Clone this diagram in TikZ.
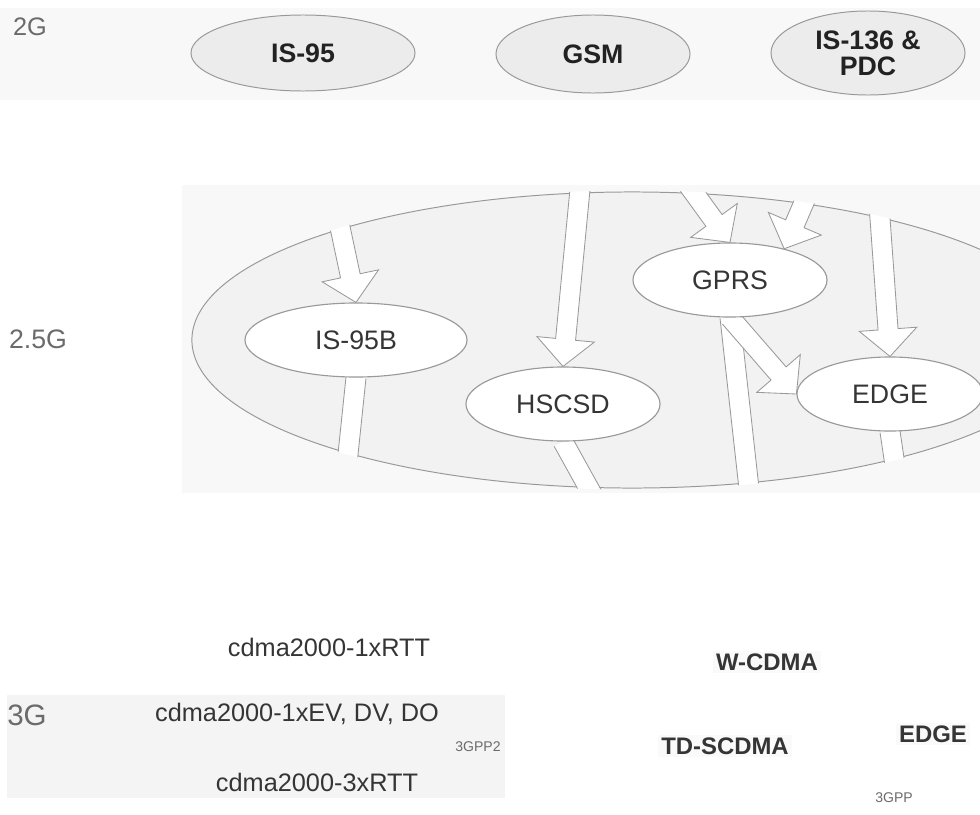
\documentclass[tikz,border=0pt]{standalone}
\usepackage{fontspec}
\setmainfont{Liberation Sans}
\usetikzlibrary{calc,shapes.geometric,backgrounds}
\definecolor{Ink}{HTML}{222222}
\definecolor{Txt}{HTML}{353535}
\definecolor{Gen}{HTML}{6B6B6B}
\definecolor{Line}{HTML}{999999}
\definecolor{Wash}{HTML}{F4F4F4}
\definecolor{Haze}{HTML}{F8F8F8}
\definecolor{Faint}{HTML}{FAFAFA}
\definecolor{Mottle}{HTML}{ECECEC}

\tikzset{
  gen/.style={font=\fontsize{18}{20}\selectfont,text=Gen},
  old/.style={ellipse,draw=Line,fill=Mottle,line width=0.7pt,inner sep=0pt,
    text=Ink,align=center,font=\fontsize{19}{18.5}\selectfont\bfseries},
  mid/.style={ellipse,draw=Line,fill=white,line width=0.8pt,inner sep=0pt,
    minimum height=1.85cm,text=Txt,font=\fontsize{19}{20}\selectfont},
  cdma/.style={text=Txt,inner sep=1pt,font=\fontsize{18}{20}\selectfont},
  gsmfam/.style={text=Txt,fill=Faint,inner sep=2pt,font=\fontsize{17}{20}\selectfont\bfseries},
  body/.style={text=Gen,inner sep=1pt,font=\fontsize{10}{12}\selectfont},
  blockarr/.style={draw=Line,fill=white,line width=0.6pt,line join=miter},
}

% block arrow from #1 to the tip #2
\newcommand\blockarrow[2]{%
  \path ($(#2)!\hdl!(#1)$) coordinate (neck);
  \filldraw[blockarr] ($(#1)!\shw!90:(#2)$) -- ($(neck)!\shw!-90:(#1)$)
    -- ($(neck)!\hdw!-90:(#1)$) -- (#2) -- ($(neck)!\hdw!90:(#1)$)
    -- ($(neck)!\shw!90:(#1)$) -- ($(#1)!\shw!-90:(#2)$);
}

\begin{document}
\begin{tikzpicture}[x=0.025cm,y=-0.025cm]
  \def\shw{0.25cm}
  \def\hdw{0.72cm}
  \def\hdl{0.68cm}
  \useasboundingbox (0,0) rectangle (980,815);

  % generations
  \node[gen] (g2) at (30,27) {2G};
  \node[gen,font=\fontsize{19}{22}\selectfont] (g25) at (38,339) {2.5G};
  \node[gen,font=\fontsize{21}{24}\selectfont] (g3) at (27,715) {3G};

  % 2G
  \node[old,minimum width=5.6cm,minimum height=1.9cm] (is95) at (303,53) {IS-95};
  \node[old,minimum width=4.85cm,minimum height=1.95cm] (gsm) at (593,54) {GSM};
  \node[old,minimum width=4.85cm,minimum height=2.1cm] (is136) at (868,53) {IS-136 \&\\PDC};

  % 2.5G
  \foreach \nm/\x/\y/\w/\lab in {is95b/356/340/5.55/IS-95B, hscsd/563/404/4.85/HSCSD,
      gprs/730/280/4.85/GPRS, edge/890/394/4.65/EDGE}
    \node[mid,minimum width=\w cm] (\nm) at (\x,\y) {\lab};

  % 3G
  \node[cdma] (rtt1) at (329,647) {cdma2000-1xRTT};
  \node[cdma] (evdo) at (297,714) {cdma2000-1xEV, DV, DO};
  \node[cdma] (rtt3) at (317,782) {cdma2000-3xRTT};
  \node[body] (pp2) at (478,747) {3GPP2};
  \node[gsmfam] (wcdma) at (767,662) {W-CDMA};
  \node[gsmfam] (tdscdma) at (725,746) {TD-SCDMA};
  \node[gsmfam] (edge3) at (933,734) {EDGE};
  \node[body] (pp) at (894,798) {3GPP};

  \begin{scope}[on background layer]
    \fill[Haze] (0,8) rectangle (980,100);
    \fill[Wash] (7,695) rectangle (505,798);
    \fill[Haze] (182,185) rectangle (980,493);
    \begin{scope}
      \clip (182,185) rectangle (980,493);
      \filldraw[fill=Mottle!70!white,draw=Line,line width=0.7pt] (632,340) ellipse [x radius=11cm,y radius=3.7cm];
      \clip (632,340) ellipse [x radius=11.04cm,y radius=3.74cm];
      \blockarrow{is95}{is95b.north}
      \blockarrow{gsm}{hscsd.north}
      \blockarrow{gsm}{gprs.north}
      \blockarrow{is136}{gprs.30}
      \blockarrow{is136}{edge.north}
      \blockarrow{is95b.south}{rtt1.north}
      \blockarrow{hscsd.south}{tdscdma.north}
      \blockarrow{gprs.south}{wcdma.north}
      \blockarrow{gprs.south}{edge.west}
      \blockarrow{edge.south}{edge3.north}
    \end{scope}
  \end{scope}
\end{tikzpicture}
\end{document}
